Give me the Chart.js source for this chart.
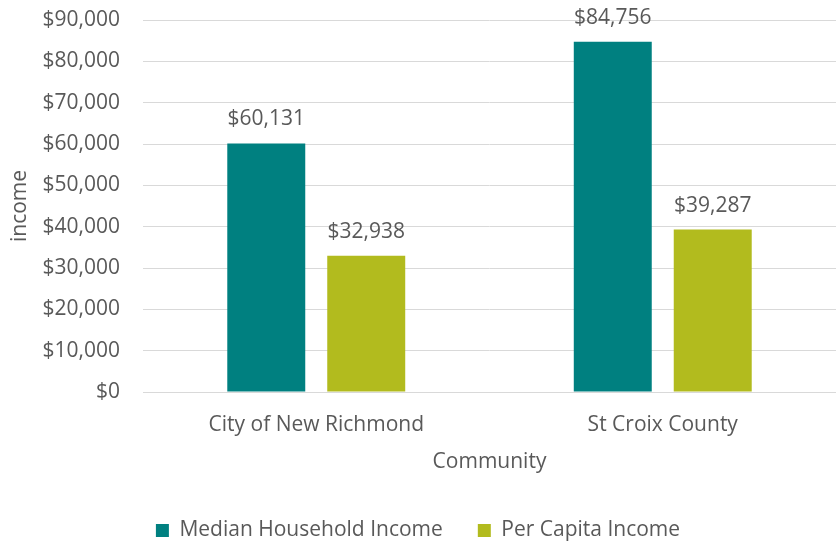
<!DOCTYPE html>
<html><head><meta charset="utf-8">
<script src="https://cdn.jsdelivr.net/npm/chart.js@4"></script>
<style>html,body{margin:0;padding:0;background:#fff}#wrap{width:836px;height:542px}</style>
</head><body><div id="wrap"><canvas id="c" width="836" height="542"></canvas></div>
<script>
const categories = ["City of New Richmond", "St Croix County"];
const seriesNames = ["Median Household Income", "Per Capita Income"];
const medianHousehold = [60131, 84756];
const perCapita = [32938, 39287];
const yTicks = [0, 10000, 20000, 30000, 40000, 50000, 60000, 70000, 80000, 90000];

const FONT = "'Open Sans', sans-serif";
const FS = 21;
const TXT = "#595959";
const fmt = v => "$" + v.toLocaleString("en-US");

const labelPlugin = {
  id: "vals",
  afterDatasetsDraw(chart) {
    const ctx = chart.ctx;
    ctx.save();
    ctx.font = FS + "px " + FONT;
    ctx.fillStyle = TXT;
    ctx.textAlign = "center";
    ctx.textBaseline = "middle";
    chart.data.datasets.forEach((ds, i) => {
      chart.getDatasetMeta(i).data.forEach((bar, j) => {
        ctx.fillText(fmt(ds.data[j]), bar.x, bar.y - 24);
      });
    });
    ctx.restore();
  }
};

new Chart(document.getElementById("c"), {
  type: "bar",
  data: {
    labels: categories,
    datasets: [
      { label: seriesNames[0], data: medianHousehold, backgroundColor: "#008080" },
      { label: seriesNames[1], data: perCapita, backgroundColor: "#B2BB1E" }
    ]
  },
  options: {
    responsive: false,
    animation: false,
    devicePixelRatio: 1,
    layout: { padding: { top: 20, right: 0, left: 0, bottom: -9 } },
    datasets: { bar: { categoryPercentage: 0.577, barPercentage: 0.78 } },
    scales: {
      x: {
        grid: { display: false, drawTicks: false },
        border: { color: "#D9D9D9", width: 1 },
        ticks: { color: TXT, font: { family: FONT, size: FS }, padding: 20 },
        title: { display: true, text: "Community", color: TXT, font: { family: FONT, size: FS }, padding: { top: 0, bottom: 10 } },
        afterFit(s) { s.height = 93; s.paddingLeft = 0; s.paddingRight = 0; }
      },
      y: {
        min: 0, max: 90000,
        afterBuildTicks(axis) { axis.ticks = yTicks.map(v => ({ value: v })); },
        grid: { color: "#D9D9D9", drawTicks: false },
        border: { display: false },
        ticks: { color: TXT, font: { family: FONT, size: FS }, padding: 23, callback: v => fmt(v) },
        title: { display: true, text: "income", color: TXT, font: { family: FONT, size: FS }, padding: { top: 7, bottom: 0 } },
        afterFit(s) { s.width = 143; s.paddingTop = 0; s.paddingBottom = 0; }
      }
    },
    plugins: {
      legend: {
        position: "bottom",
        labels: { color: TXT, font: { family: FONT, size: FS }, boxWidth: 13, boxHeight: 13, padding: 35 }
      },
      tooltip: { enabled: false }
    }
  },
  plugins: [labelPlugin]
});
</script></body></html>
